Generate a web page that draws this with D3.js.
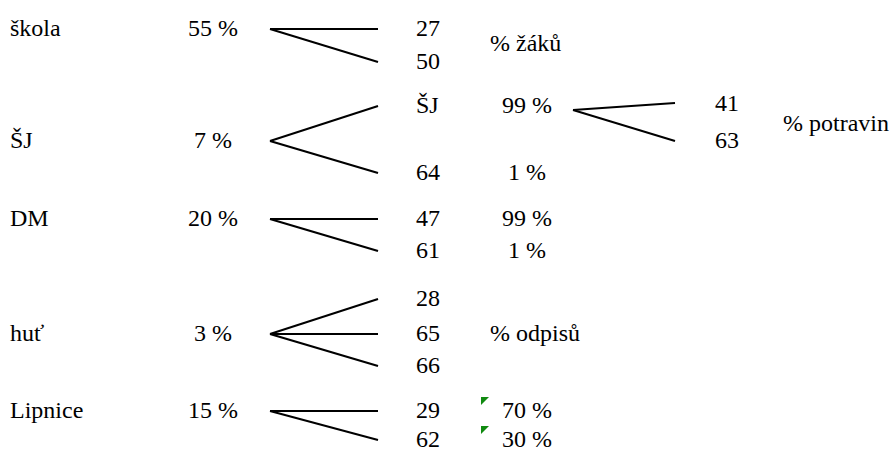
<!DOCTYPE html>
<html>
<head>
<meta charset="utf-8">
<script src="https://cdn.jsdelivr.net/npm/d3@7"></script>
</head>
<body style="margin:0">
<script>
// Data
const groups = ["škola", "ŠJ", "DM", "huť", "Lipnice"];
const groupShares = ["55 %", "7 %", "20 %", "3 %", "15 %"];
const children = [["27", "50"], ["ŠJ", "64"], ["47", "61"], ["28", "65", "66"], ["29", "62"]];
const childShares = [[], ["99 %", "1 %"], ["99 %", "1 %"], [], ["70 %", "30 %"]];
const subChildren = ["41", "63"];          // split of ŠJ -> ŠJ
const notes = ["% žáků", "% potravin", "% odpisů"];
const flaggedGroup = "Lipnice";            // cells with the green corner marks

// Layout (pixel slots for the rows)
const groupSlot = [28, 140, 218, 333, 410];
const childSlot = [[28, 61], [105, 172], [218, 250], [298, 333, 365], [410, 439]];
const subSlot = [103, 140];
const noteSlot = [[490, 43], [783, 123], [490, 333]];

const width = 895, height = 450;
const faces = ["Liberation Serif", "Times New Roman", "Tinos"];

const x = d3.scaleOrdinal()
    .domain(["label", "share", "from", "to", "child", "childShare", "subFrom", "subTo", "sub"])
    .range([10, 213, 270, 378, 416, 527, 573, 675, 715]);

const svg = d3.select("body").append("svg").attr("width", width).attr("height", height);

const base = 8; // baseline offset from row centre

// collect every text first, then draw them in one join
const texts = [];
groups.forEach((g, i) => {
    texts.push({ t: g, x: x("label"), y: groupSlot[i], a: "start" });
    texts.push({ t: groupShares[i], x: x("share"), y: groupSlot[i], a: "middle" });
    children[i].forEach((c, j) => texts.push({ t: c, x: x("child"), y: childSlot[i][j], a: "start" }));
    childShares[i].forEach((s, j) => texts.push({ t: s, x: x("childShare"), y: childSlot[i][j], a: "middle" }));
});
subChildren.forEach((c, j) => texts.push({ t: c, x: x("sub"), y: subSlot[j], a: "start" }));
notes.forEach((n, i) => texts.push({ t: n, x: noteSlot[i][0], y: noteSlot[i][1], a: "start" }));

// branches
groups.forEach((g, i) => {
    const y0 = groupSlot[i] + 1;
    children[i].forEach((c, j) => {
        svg.append("line")
            .attr("x1", x("from"))
            .attr("y1", y0)
            .attr("x2", x("to"))
            .attr("y2", childSlot[i][j] + 1)
            .attr("stroke", "#000")
            .attr("stroke-width", 2);
    });
    if (g === flaggedGroup) {
        childShares[i].forEach((s, j) => {
            const tx = x("childShare") - 46, ty = childSlot[i][j] - 13;
            svg.append("path")
                .attr("d", `M${tx},${ty}L${tx + 8},${ty}L${tx},${ty + 8}Z`)
                .attr("fill", "#108a10");
        });
    }
});

// second level split of ŠJ
const subY0 = childSlot[1][0] + 5;
subChildren.forEach((c, j) => {
    svg.append("line")
        .attr("x1", x("subFrom"))
        .attr("y1", subY0)
        .attr("x2", x("subTo"))
        .attr("y2", subSlot[j] + (j === 0 ? 0 : 1))
        .attr("stroke", "#000")
        .attr("stroke-width", 2);
});

svg.selectAll("text")
    .data(texts)
    .enter()
    .append("text")
    .attr("x", d => d.x)
    .attr("y", d => d.y + base)
    .attr("text-anchor", d => d.a)
    .attr("font-size", 24)
    .style("font-family", d => `'${faces[0]}', '${faces[1]}', monospace`)
    .text(d => d.t);
</script>
</body>
</html>
